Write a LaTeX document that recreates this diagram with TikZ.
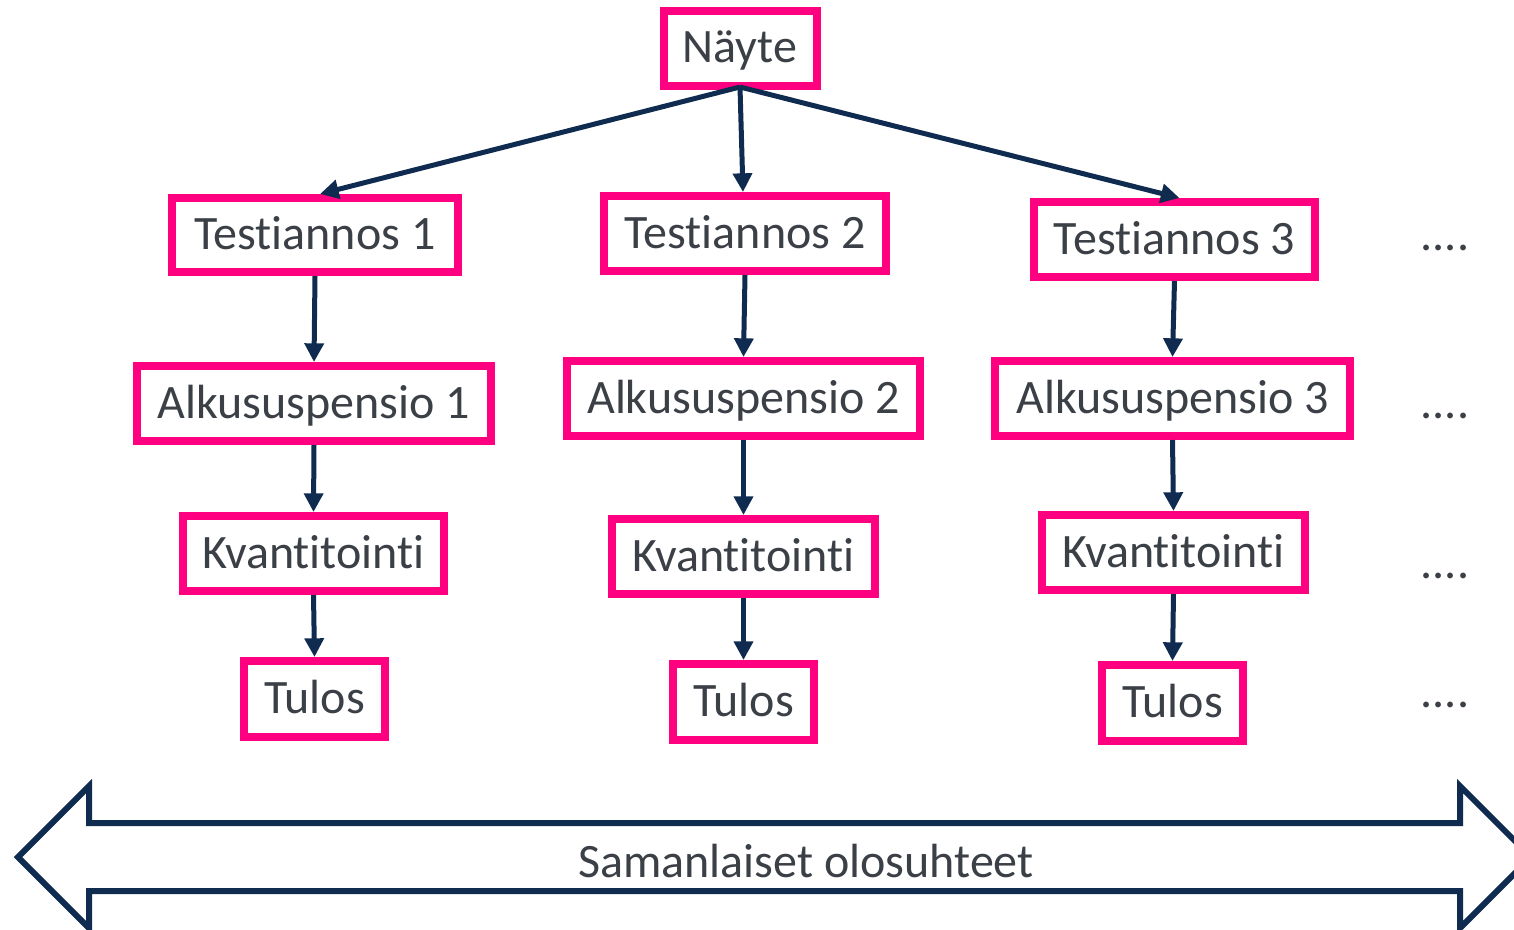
\documentclass[tikz,border=0pt]{standalone}
\usepackage{fontspec}
\setmainfont{Carlito}[RawFeature={-liga,-clig,-dlig}]
\usetikzlibrary{arrows.meta}
\definecolor{pinkc}{HTML}{FF0080}
\definecolor{navyc}{HTML}{0F2B4F}
\definecolor{textc}{HTML}{3B3F46}
\tikzset{
  box/.style={draw=pinkc, line width=6pt, fill=white, text=textc, font=\fontsize{36}{40}\selectfont, inner sep=0pt, text height=28pt, text depth=6pt},
  conn/.style={draw=navyc, line width=3.75pt, -{Triangle[length=14pt,width=14pt]}},
  dots/.style={text=textc, font=\fontsize{36}{40}\selectfont, anchor=base, inner sep=0pt},
  bigarrow/.style={draw=navyc, line width=4.5pt, line join=miter, fill=white}
}
\begin{document}
\begin{tikzpicture}[x=0.75pt,y=-0.75pt]
\useasboundingbox (0,0) rectangle (1514,929);
\clip (0,0) rectangle (1514,929);
% nodes
\node[box, minimum width=0.75*153pt, minimum height=0.75*75pt] (n) at (740,48) {Näyte};
\node[box, minimum width=0.75*286pt, minimum height=0.75*74pt] (t1) at (315,235) {Testiannos 1};
\node[box, minimum width=0.75*282pt, minimum height=0.75*75pt] (t2) at (745,233.5) {Testiannos 2};
\node[box, minimum width=0.75*281pt, minimum height=0.75*75pt] (t3) at (1174.5,239.5) {Testiannos 3};
\node[box, minimum width=0.75*354pt, minimum height=0.75*75pt] (a1) at (314,403.5) {Alkususpensio 1};
\node[box, minimum width=0.75*353pt, minimum height=0.75*75pt] (a2) at (743.5,398.5) {Alkususpensio 2};
\node[box, minimum width=0.75*355pt, minimum height=0.75*75pt] (a3) at (1172.5,398.5) {Alkususpensio 3};
\node[box, minimum width=0.75*261pt, minimum height=0.75*75pt] (k1) at (313.5,553.5) {Kvantitointi};
\node[box, minimum width=0.75*263pt, minimum height=0.75*75pt] (k2) at (743.5,556.5) {Kvantitointi};
\node[box, minimum width=0.75*263pt, minimum height=0.75*75pt] (k3) at (1173.5,552.5) {Kvantitointi};
\node[box, minimum width=0.75*141pt, minimum height=0.75*76pt] (u1) at (314.5,699) {Tulos};
\node[box, minimum width=0.75*141pt, minimum height=0.75*76pt] (u2) at (743.5,702) {Tulos};
\node[box, minimum width=0.75*141pt, minimum height=0.75*76pt] (u3) at (1172.5,703) {Tulos};
% dots
\node[dots] (d1) at (1445,250) {....};
\node[dots] (d2) at (1445,418) {....};
\node[dots] (d3) at (1445,578) {....};
\node[dots] (d4) at (1445,707) {....};
% connectors
\coordinate (ns) at (740,87);
\draw[conn] (ns) -- ([xshift=5*0.75pt]t1.north);
\draw[conn] (ns) -- ([xshift=-2*0.75pt]t2.north);
\draw[conn] (ns) -- ([xshift=5*0.75pt]t3.north);
\draw[conn] (t1.south) -- (a1.north);
\draw[conn] (t2.south) -- (a2.north);
\draw[conn] (t3.south) -- (a3.north);
\draw[conn] (a1.south) -- (k1.north);
\draw[conn] (a2.south) -- (k2.north);
\draw[conn] (a3.south) -- (k3.north);
\draw[conn] (k1.south) -- (u1.north);
\draw[conn] (k2.south) -- (u2.north);
\draw[conn] (k3.south) -- (u3.north);
% big double arrow
\draw[bigarrow] (18,857) -- (89,786) -- (89,823) -- (1460,823) -- (1460,786) -- (1531,857)
  -- (1460,928) -- (1460,891) -- (89,891) -- (89,928) -- cycle;
\node[text=textc, font=\fontsize{36}{40}\selectfont, inner sep=0pt] (lbl) at (806,861) {Samanlaiset olosuhteet};
\end{tikzpicture}
\end{document}
